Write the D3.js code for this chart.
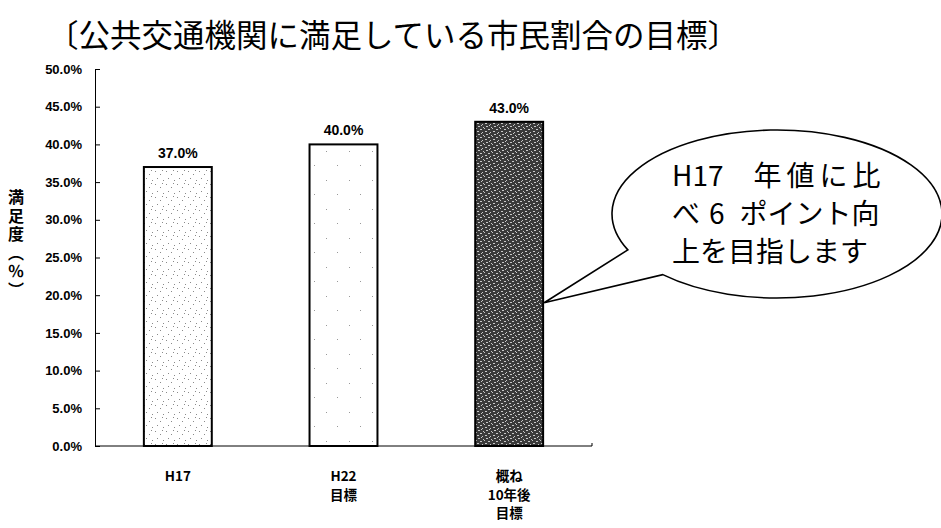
<!DOCTYPE html>
<html>
<head>
<meta charset="utf-8">
<script src="https://cdn.jsdelivr.net/npm/d3@7"></script>
<style>
  body { margin: 0; background: #fff; }
  text { font-family: "Noto Sans CJK JP", sans-serif; fill: #000; }
  .num { font-family: "Liberation Sans", Arial, sans-serif; font-weight: bold; font-size: 13px; }
  .val { font-size: 14px; }
  .cat { font-family: "Noto Sans CJK JP", sans-serif; font-weight: bold; font-size: 13.5px; }
</style>
</head>
<body>
<div id="chart"></div>
<script>
var width = 941,
    height = 528;

// data
var categories = [["H17"], ["H22", "目標"], ["概ね", "10年後", "目標"]];
var values = [37.0, 40.0, 43.0];
var yTicks = [0, 5, 10, 15, 20, 25, 30, 35, 40, 45, 50];
var title = "〔公共交通機関に満足している市民割合の目標〕";
var yTitle = "満足度（％）";
var noteLines = [["H17", "年値に比"], ["べ", "6", "ポイント向"], ["上を目指します"]];
var noteBar = 2; // the callout points at this bar

var plot = { left: 95, right: 592, top: 69, bottom: 446 };

var fills = ["url(#dots)", "url(#sparse)", "url(#dark)"];

// spacing of the pieces inside each callout line
var noteGaps = [[0, 30], [0, 9, 15], [0]];
var noteTrack = [[0, 5], [0, 0, 0], [0]];

var svg = d3.select("#chart").append("svg")
    .attr("width", width)
    .attr("height", height);

var defs = svg.append("defs");

// stipple for the first bar
var p1 = defs.append("pattern").attr("id", "dots")
    .attr("width", 11).attr("height", 13).attr("patternUnits", "userSpaceOnUse");
p1.append("rect").attr("width", 11).attr("height", 13).attr("fill", "#fff");
[[1, 2], [6, 5], [3, 9], [9, 11], [8, 1]].forEach(function(d){
  p1.append("rect").attr("x", d[0]).attr("y", d[1]).attr("width", 1).attr("height", 1).attr("fill", "#8a8a8a");
});

// very light stipple for the second bar
var p2 = defs.append("pattern").attr("id", "sparse")
    .attr("width", 23).attr("height", 29).attr("patternUnits", "userSpaceOnUse");
p2.append("rect").attr("width", 23).attr("height", 29).attr("fill", "#fff");
[[4, 6], [15, 20]].forEach(function(d){
  p2.append("rect").attr("x", d[0]).attr("y", d[1]).attr("width", 1).attr("height", 1).attr("fill", "#999");
});

// mottled dark fill for the target bar
var p3 = defs.append("pattern").attr("id", "dark")
    .attr("width", 8).attr("height", 8).attr("patternUnits", "userSpaceOnUse");
p3.append("rect").attr("width", 8).attr("height", 8).attr("fill", "#3a3a3a");
[[0, 1, 2], [4, 0, 1], [5, 3, 2], [1, 5, 1], [2, 4, 1], [6, 6, 2], [3, 7, 1]].forEach(function(d){
  p3.append("rect").attr("x", d[0]).attr("y", d[1]).attr("width", d[2]).attr("height", 1).attr("fill", "#c8c8c8");
});

var x = d3.scaleBand()
    .domain(d3.range(categories.length))
    .range([plot.left, plot.right])
    .paddingInner(0.59)
    .paddingOuter(0.295);

var y = d3.scaleLinear()
    .domain([0, 50])
    .range([plot.bottom, plot.top]);

// title
svg.append("text")
    .attr("x", 47)
    .attr("y", 47)
    .style("font-size", "31.5px")
    .text(title);

// y axis
var yAxis = d3.axisLeft(y)
    .tickValues(yTicks)
    .tickSizeInner(-5)
    .tickSizeOuter(-5)
    .tickPadding(13)
    .tickFormat(function(d){ return d.toFixed(1) + "%"; });

var gy = svg.append("g")
    .attr("transform", "translate(" + plot.left + ",0)")
    .call(yAxis);
gy.select(".domain").attr("stroke", "#000").attr("stroke-width", 1);
gy.selectAll(".tick line").attr("stroke", "#000");
gy.selectAll(".tick text")
    .attr("class", "num")
    .attr("fill", "#000");

// y title, written top to bottom
svg.append("text")
    .attr("x", 16)
    .attr("y", 189)
    .style("writing-mode", "vertical-rl")
    .style("font-size", "16px")
    .style("font-weight", "bold")
    .style("letter-spacing", "2.5px")
    .text(yTitle);

// baseline
svg.append("line")
    .attr("x1", plot.left).attr("x2", plot.right)
    .attr("y1", y(0)).attr("y2", y(0))
    .attr("stroke", "#000").attr("stroke-width", 1);
svg.append("line")
    .attr("x1", plot.right).attr("x2", plot.right)
    .attr("y1", y(0) - 3).attr("y2", y(0))
    .attr("stroke", "#000");

// bars
svg.selectAll("rect.bar")
    .data(values)
  .enter().append("rect")
    .attr("class", "bar")
    .attr("x", function(d, i){ return x(i); })
    .attr("y", function(d){ return y(d); })
    .attr("width", x.bandwidth())
    .attr("height", function(d){ return y(0) - y(d); })
    .attr("fill", function(d, i){ return fills[i]; })
    .attr("stroke", "#000")
    .attr("stroke-width", 2);

// value labels
svg.selectAll("text.val")
    .data(values)
  .enter().append("text")
    .attr("class", "num val")
    .attr("x", function(d, i){ return x(i) + x.bandwidth() / 2; })
    .attr("y", function(d){ return y(d) - 9; })
    .attr("text-anchor", "middle")
    .text(function(d){ return d.toFixed(1) + "%"; });

// category labels
var cat = svg.selectAll("text.cat")
    .data(categories)
  .enter().append("text")
    .attr("class", "cat")
    .attr("text-anchor", "middle");
cat.selectAll("tspan")
    .data(function(d, i){ return d.map(function(s){ return { s: s, i: i }; }); })
  .enter().append("tspan")
    .attr("x", function(d){ return x(d.i) + x.bandwidth() / 2; })
    .attr("y", function(d, j){ return 481 + j * 18.5; })
    .text(function(d){ return d.s; });

// callout bubble
var bubble = { cx: 777, cy: 214, rx: 165, ry: 84, a1: 154.7, a2: 133.8 };
var rad = Math.PI / 180;
var b1 = [bubble.cx + bubble.rx * Math.cos(bubble.a1 * rad), bubble.cy + bubble.ry * Math.sin(bubble.a1 * rad)];
var b2 = [bubble.cx + bubble.rx * Math.cos(bubble.a2 * rad), bubble.cy + bubble.ry * Math.sin(bubble.a2 * rad)];
var tip = [x(noteBar) + x.bandwidth() + 1, y(19)];

svg.append("path")
    .attr("d", "M" + b1 + " A" + bubble.rx + "," + bubble.ry + " 0 1 1 " + b2 + " L" + tip + " Z")
    .attr("fill", "#fff")
    .attr("stroke", "#000")
    .attr("stroke-width", 1.6)
    .attr("stroke-linejoin", "miter");

var note = svg.selectAll("text.note")
    .data(noteLines)
  .enter().append("text")
    .attr("class", "note")
    .attr("x", 672)
    .attr("y", function(d, i){ return 186 + i * 38; })
    .style("font-size", "28px");
note.selectAll("tspan")
    .data(function(d, i){ return d.map(function(s, j){ return { s: s, dx: noteGaps[i][j], ls: noteTrack[i][j] }; }); })
  .enter().append("tspan")
    .attr("dx", function(d){ return d.dx; })
    .style("letter-spacing", function(d){ return d.ls + "px"; })
    .text(function(d){ return d.s; });
</script>
</body>
</html>
